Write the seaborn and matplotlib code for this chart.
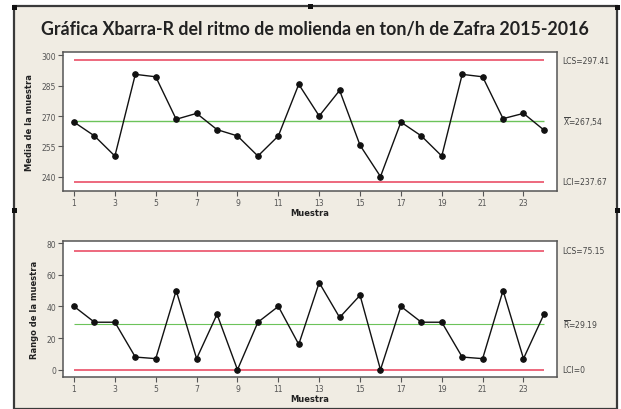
import matplotlib
matplotlib.use("Agg")
import matplotlib.pyplot as plt
import matplotlib.patches as mpatches
import numpy as np
import pandas as pd
import seaborn as sns

# Subgroup number and chart values
muestra = list(range(1, 25))
media = [267.0, 260.2, 250.3, 290.5, 289.3, 268.4, 271.3, 263.3, 260.2, 250.3,
         260.2, 285.6, 270.0, 282.6, 255.6, 240.2, 267.0, 260.2, 250.3, 290.5,
         289.3, 268.7, 271.3, 263.1]
rango = [40, 30, 30, 8, 7, 50, 7, 35, 0, 30,
         40, 16, 55, 33, 47, 0, 40, 30, 30, 8,
         7, 50, 7, 35]

# Control limits
xbar_lcs, xbar_center, xbar_lci = 297.41, 267.54, 237.67
r_lcs, r_center, r_lci = 75.15, 29.19, 0.0
xbar_labels = ["LCS=297.41", r"$\overline{\mathrm{X}}$=267,54", "LCI=237.67"]
r_labels = ["LCS=75.15", r"$\overline{\mathrm{R}}$=29.19", "LCI=0"]
x_ticks = [1, 3, 5, 7, 9, 11, 13, 15, 17, 19, 21, 23]
y_ticks_top = [240, 255, 270, 285, 300]
y_ticks_bottom = [0, 20, 40, 60, 80]

sns.set_theme(style="white")
plt.rcParams["font.family"] = ["DejaVu Sans"]
plt.rcParams["mathtext.fontset"] = "dejavusans"

W, H = 621, 410
fig = plt.figure(figsize=(W / 100, H / 100), dpi=100)
fig.patch.set_facecolor("white")

# Panel background with dark frame (behind the axes)
frame = mpatches.Rectangle((14 / W, 0), (617 - 14) / W, (H - 7) / H,
                           transform=fig.transFigure, facecolor="#f0ece3",
                           edgecolor="#3a3a3a", linewidth=1.6, zorder=-5)
fig.patches.append(frame)
# Small selection handles on the frame
for hx, hy in [(14, 8), (310, 7), (617, 8), (14, 211), (617, 211)]:
    fig.patches.append(mpatches.Rectangle(((hx - 2.5) / W, 1 - (hy + 2.5) / H),
                                          5 / W, 5 / H, transform=fig.transFigure,
                                          facecolor="#111111", edgecolor="none",
                                          zorder=5))

fig.text(315 / W, 1 - 30 / H,
         "Gráfica Xbarra-R del ritmo de molienda en ton/h de Zafra 2015-2016",
         ha="center", va="center", fontsize=12.8, fontweight="bold",
         family="Lato", color="#222222")

red = "#e8405a"
green = "#6cc35a"
tick_color = "#555555"

def style_axes(ax, xlim, ylim, yticks, ylabel):
    ax.set_facecolor("white")
    ax.set_xlim(*xlim)
    ax.set_ylim(*ylim)
    ax.set_xticks(x_ticks)
    ax.set_yticks(yticks)
    ax.tick_params(axis="both", which="both", direction="out", length=3.5,
                   width=0.8, colors="#555555", labelsize=5.5,
                   labelcolor=tick_color, pad=1.5,
                   bottom=True, left=True, top=False, right=False)
    for sp in ax.spines.values():
        sp.set_color("#555555")
        sp.set_linewidth(1.1)
    ax.set_ylabel(ylabel, fontsize=6, fontweight="bold", color="#222222",
                  labelpad=5)
    ax.set_xlabel("Muestra", fontsize=6, fontweight="bold", color="#222222",
                  labelpad=1)
    ax.grid(False)

# X-bar chart
ax1 = fig.add_axes([63 / W, 1 - 192 / H, 494 / W, 139 / H])
df1 = pd.DataFrame({"Muestra": muestra, "Media": media})
ax1.hlines([xbar_lcs, xbar_lci], 1, 24, colors=red, linewidth=1.1, zorder=1)
ax1.hlines([xbar_center], 1, 24, colors=green, linewidth=1.0, zorder=1)
sns.lineplot(data=df1, x="Muestra", y="Media", ax=ax1, color="#111111",
             linewidth=1.0, marker="o", markersize=4, markeredgecolor="#111111",
             zorder=3)
style_axes(ax1, (0.46, 24.64), (233.1, 301.5), y_ticks_top, "Media de la muestra")
for val, lab in zip([xbar_lcs, xbar_center, xbar_lci], xbar_labels):
    ax1.annotate(lab, xy=(1, val), xycoords=("axes fraction", "data"),
                 xytext=(4, 0), textcoords="offset points", ha="left",
                 va="center", fontsize=5.5, color="#444444")

# Range chart
ax2 = fig.add_axes([63 / W, 1 - 378 / H, 494 / W, 136 / H])
df2 = pd.DataFrame({"Muestra": muestra, "Rango": rango})
ax2.hlines([r_lcs, r_lci], 1, 24, colors=red, linewidth=1.1, zorder=1)
ax2.hlines([r_center], 1, 24, colors=green, linewidth=0.8, zorder=1)
sns.lineplot(data=df2, x="Muestra", y="Rango", ax=ax2, color="#111111",
             linewidth=1.0, marker="o", markersize=4, markeredgecolor="#111111",
             zorder=3)
style_axes(ax2, (0.46, 24.64), (-4.6, 81.3), y_ticks_bottom, "Rango de la muestra")
for val, lab in zip([r_lcs, r_center, r_lci], r_labels):
    ax2.annotate(lab, xy=(1, val), xycoords=("axes fraction", "data"),
                 xytext=(4, 0), textcoords="offset points", ha="left",
                 va="center", fontsize=5.5, color="#444444")

fig.savefig("out.png", dpi=100)
